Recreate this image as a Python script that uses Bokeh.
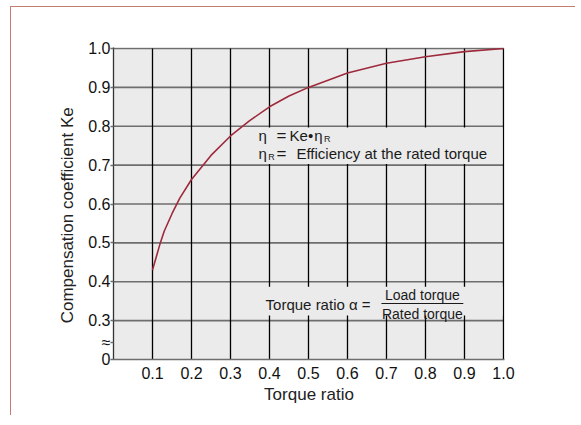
from bokeh.plotting import figure
from bokeh.models import FixedTicker, Label, Range1d
from bokeh.embed import file_html
from bokeh.resources import INLINE

# Data
torque_ratio = [0.10, 0.11, 0.12, 0.13, 0.15, 0.17, 0.20, 0.25, 0.30, 0.35,
                0.40, 0.45, 0.50, 0.60, 0.70, 0.80, 0.90, 1.00]
ke = [0.43, 0.465, 0.50, 0.53, 0.575, 0.615, 0.663, 0.725, 0.775, 0.815,
      0.85, 0.878, 0.90, 0.937, 0.962, 0.979, 0.992, 1.00]

x_ticks = [0.1, 0.2, 0.3, 0.4, 0.5, 0.6, 0.7, 0.8, 0.9, 1.0]
x_tick_labels = ["0.1", "0.2", "0.3", "0.4", "0.5", "0.6", "0.7", "0.8", "0.9", "1.0"]
y_ticks = [0.2, 0.3, 0.4, 0.5, 0.6, 0.7, 0.8, 0.9, 1.0]
y_tick_labels = ["0", "0.3", "0.4", "0.5", "0.6", "0.7", "0.8", "0.9", "1.0"]
break_tick = 0.243
break_label = "≈"

FONT = "Liberation Sans"
CURVE = "#9e2a3c"
BG = "#ebebeb"
HGRID = "#6e6e6e"
FRAME = "#c27d70"

X0, X1 = 0.0, 1.0
Y0, Y1 = 0.2, 1.0

p = figure(width=565, height=409, output_backend="svg", toolbar_location=None,
           x_range=Range1d(X0, 1.0026), y_range=Range1d(Y0, 1.0026),
           min_border_left=102, min_border_right=72, min_border_top=40,
           min_border_bottom=57)
p.styles = {"border-left": f"1.5px solid {FRAME}",
            "border-top": f"1.5px solid {FRAME}",
            "margin-left": "10px", "margin-top": "6px"}
p.background_fill_color = BG
p.border_fill_color = "white"
p.outline_line_color = None
p.xgrid.grid_line_color = None
p.ygrid.grid_line_color = None

# own grid lines, drawn from the tick positions
hy = [t for t in y_ticks if t > Y0]
p.segment(x0=[X0] * len(hy), y0=hy, x1=[X1] * len(hy), y1=hy,
          line_color=HGRID, line_width=1.6)
p.segment(x0=x_ticks, y0=[Y0] * len(x_ticks), x1=x_ticks, y1=[Y1] * len(x_ticks),
          line_color="black", line_width=1.3)

# text boxes that hide the grid behind the notes
p.varea(x=[0.35, 0.9975], y1=[0.703, 0.703], y2=[0.797, 0.797],
        fill_color=BG, fill_alpha=1.0)
p.varea(x=[0.33, 0.9975], y1=[0.313, 0.313], y2=[0.387, 0.387],
        fill_color=BG, fill_alpha=1.0)

# curve
p.line(torque_ratio, ke, line_color=CURVE, line_width=1.6)

# fraction bar
p.segment(x0=[0.687], y0=[0.344], x1=[0.897], y1=[0.344],
          line_color="#1a1a1a", line_width=1.2)

# axes
ticks_y = sorted(y_ticks + [break_tick])
p.xaxis.ticker = FixedTicker(ticks=x_ticks)
p.xaxis.major_label_overrides = {t: s for t, s in zip(x_ticks, x_tick_labels)}
p.yaxis.ticker = FixedTicker(ticks=ticks_y)
overrides = {t: s for t, s in zip(y_ticks, y_tick_labels)}
overrides[break_tick] = break_label
p.yaxis.major_label_overrides = overrides
for ax in (p.xaxis[0], p.yaxis[0]):
    ax.major_label_text_font = FONT
    ax.major_label_text_font_size = "16px"
    ax.major_label_text_color = "#111111"
    ax.axis_label_text_font = FONT
    ax.axis_label_text_font_size = "17px"
    ax.axis_label_text_font_style = "normal"
    ax.axis_label_text_color = "#222222"
    ax.minor_tick_line_color = None

p.xaxis.axis_label = "Torque ratio"
p.xaxis.major_tick_line_color = None
p.xaxis.major_tick_out = 0
p.xaxis.major_tick_in = 0
p.xaxis.major_label_standoff = 7
p.xaxis.axis_label_standoff = 3
p.xaxis.axis_line_color = HGRID
p.xaxis.axis_line_width = 1.6

p.yaxis.axis_label = "Compensation coefficient      Ke"
p.yaxis.major_tick_out = 3
p.yaxis.major_tick_in = 0
p.yaxis.major_tick_line_color = HGRID
p.yaxis.major_tick_line_width = 1.5
p.yaxis.major_label_standoff = 0
p.yaxis.axis_label_standoff = 8
p.yaxis.axis_line_color = "#333333"
p.yaxis.axis_line_width = 1.3

def lab(x, y, text, size="15px", align="left", baseline="middle", font=FONT):
    p.add_layout(Label(x=x, y=y, text=text, text_font=font, text_font_size=size,
                       text_color="#1a1a1a", text_align=align,
                       text_baseline=baseline))

# notes
lab(0.372, 0.776, "η")
lab(0.418, 0.777, "=", size="17px")
lab(0.451, 0.776, "Ke")
lab(0.499, 0.776, "•")
lab(0.515, 0.776, "η")
lab(0.540, 0.768, "R", size="9px")
lab(0.372, 0.729, "η")
lab(0.397, 0.721, "R", size="9px")
lab(0.418, 0.730, "=", size="17px")
lab(0.469, 0.729, "Efficiency at the rated torque")

lab(0.39, 0.341, "Torque ratio α =")
lab(0.792, 0.367, "Load torque", size="14px", align="center")
lab(0.792, 0.318, "Rated torque", size="14px", align="center")

open("out.html", "w").write(file_html(p, INLINE))
